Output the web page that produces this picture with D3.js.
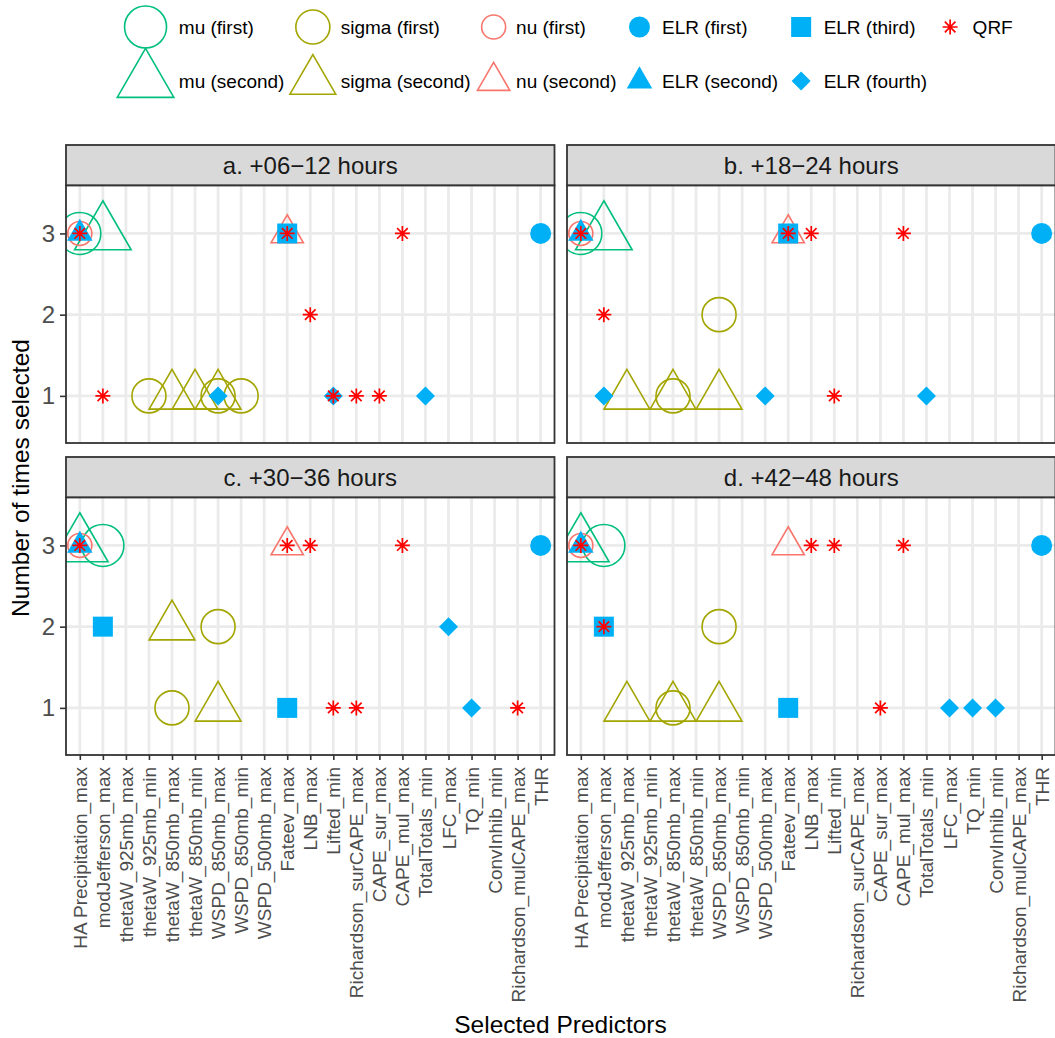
<!DOCTYPE html>
<html>
<head>
<meta charset="utf-8">
<script src="https://cdn.jsdelivr.net/npm/d3@7"></script>
<style>
body { margin: 0; background: #fff; }
svg { font-family: "Liberation Sans", Arial, Helvetica, sans-serif; }
</style>
</head>
<body>
<div id="wrapper"></div>
<script>
const predictors = ["HA Precipitation_max", "modJefferson_max", "thetaW_925mb_max", "thetaW_925mb_min",
  "thetaW_850mb_max", "thetaW_850mb_min", "WSPD_850mb_max", "WSPD_850mb_min", "WSPD_500mb_max",
  "Fateev_max", "LNB_max", "Lifted_min", "Richardson_surCAPE_max", "CAPE_sur_max", "CAPE_mul_max",
  "TotalTotals_min", "LFC_max", "TQ_min", "ConvInhib_min", "Richardson_mulCAPE_max", "THR"];
const panelTitles = ["a. +06\u221212 hours", "b. +18\u221224 hours", "c. +30\u221236 hours", "d. +42\u221248 hours"];
const yTicks = [1, 2, 3];

// rows: [panel index, predictor, number of times selected]
const muFirst = [[0, "HA Precipitation_max", 3], [1, "HA Precipitation_max", 3],
  [2, "modJefferson_max", 3], [3, "modJefferson_max", 3]];
const muSecond = [[0, "modJefferson_max", 3], [1, "modJefferson_max", 3],
  [2, "HA Precipitation_max", 3], [3, "HA Precipitation_max", 3]];
const sigmaFirst = [[0, "thetaW_925mb_min", 1], [0, "WSPD_850mb_max", 1], [0, "WSPD_850mb_min", 1],
  [1, "WSPD_850mb_max", 2], [1, "thetaW_850mb_max", 1],
  [2, "WSPD_850mb_max", 2], [2, "thetaW_850mb_max", 1],
  [3, "WSPD_850mb_max", 2], [3, "thetaW_850mb_max", 1]];
const sigmaSecond = [[0, "thetaW_850mb_max", 1], [0, "thetaW_850mb_min", 1], [0, "WSPD_850mb_max", 1],
  [1, "thetaW_925mb_max", 1], [1, "thetaW_850mb_max", 1], [1, "WSPD_850mb_max", 1],
  [2, "thetaW_850mb_max", 2], [2, "WSPD_850mb_max", 1],
  [3, "thetaW_925mb_max", 1], [3, "thetaW_850mb_max", 1], [3, "WSPD_850mb_max", 1]];
const nuFirst = [[0, "HA Precipitation_max", 3], [1, "HA Precipitation_max", 3],
  [2, "HA Precipitation_max", 3], [3, "HA Precipitation_max", 3]];
const nuSecond = [[0, "Fateev_max", 3], [1, "Fateev_max", 3], [2, "Fateev_max", 3], [3, "Fateev_max", 3]];
const elrFirst = [[0, "THR", 3], [1, "THR", 3], [2, "THR", 3], [3, "THR", 3]];
const elrSecond = [[0, "HA Precipitation_max", 3], [1, "HA Precipitation_max", 3],
  [2, "HA Precipitation_max", 3], [3, "HA Precipitation_max", 3]];
const elrThird = [[0, "Fateev_max", 3], [1, "Fateev_max", 3],
  [2, "modJefferson_max", 2], [2, "Fateev_max", 1],
  [3, "modJefferson_max", 2], [3, "Fateev_max", 1]];
const elrFourth = [[0, "WSPD_850mb_max", 1], [0, "Lifted_min", 1], [0, "TotalTotals_min", 1],
  [1, "modJefferson_max", 1], [1, "WSPD_500mb_max", 1], [1, "TotalTotals_min", 1],
  [2, "LFC_max", 2], [2, "TQ_min", 1],
  [3, "LFC_max", 1], [3, "TQ_min", 1], [3, "ConvInhib_min", 1]];
const qrf = [[0, "HA Precipitation_max", 3], [0, "Fateev_max", 3], [0, "CAPE_mul_max", 3], [0, "LNB_max", 2],
  [0, "modJefferson_max", 1], [0, "Lifted_min", 1], [0, "Richardson_surCAPE_max", 1], [0, "CAPE_sur_max", 1],
  [1, "HA Precipitation_max", 3], [1, "Fateev_max", 3], [1, "LNB_max", 3], [1, "CAPE_mul_max", 3],
  [1, "modJefferson_max", 2], [1, "Lifted_min", 1],
  [2, "HA Precipitation_max", 3], [2, "Fateev_max", 3], [2, "LNB_max", 3], [2, "CAPE_mul_max", 3],
  [2, "Lifted_min", 1], [2, "Richardson_surCAPE_max", 1], [2, "Richardson_mulCAPE_max", 1],
  [3, "HA Precipitation_max", 3], [3, "LNB_max", 3], [3, "Lifted_min", 3], [3, "CAPE_mul_max", 3],
  [3, "modJefferson_max", 2], [3, "CAPE_sur_max", 1]];

const series = [
  {name: "mu (first)", data: muFirst, color: "#00BF7D", shape: "circle", size: 21},
  {name: "mu (second)", data: muSecond, color: "#00BF7D", shape: "triangle", size: 21},
  {name: "sigma (first)", data: sigmaFirst, color: "#A3A500", shape: "circle", size: 17},
  {name: "sigma (second)", data: sigmaSecond, color: "#A3A500", shape: "triangle", size: 17},
  {name: "nu (first)", data: nuFirst, color: "#F8766D", shape: "circle", size: 12},
  {name: "nu (second)", data: nuSecond, color: "#F8766D", shape: "triangle", size: 12},
  {name: "ELR (first)", data: elrFirst, color: "#00B0F6", shape: "circle", size: 10.5, filled: true},
  {name: "ELR (second)", data: elrSecond, color: "#00B0F6", shape: "triangle", size: 9.5, filled: true},
  {name: "ELR (third)", data: elrThird, color: "#00B0F6", shape: "square", size: 10, filled: true},
  {name: "ELR (fourth)", data: elrFourth, color: "#00B0F6", shape: "diamond", size: 9.5, filled: true},
  {name: "QRF", data: qrf, color: "#FF0000", shape: "asterisk", size: 7.5}
];

function symbolPath(shape, r) {
  const p = d3.path();
  if (shape === "circle") {
    p.arc(0, 0, r, 0, 2 * Math.PI);
  } else if (shape === "triangle") {
    p.moveTo(0, -1.5551 * r);
    p.lineTo(1.3468 * r, 0.7776 * r);
    p.lineTo(-1.3468 * r, 0.7776 * r);
    p.closePath();
  } else if (shape === "square") {
    p.rect(-r, -r, 2 * r, 2 * r);
  } else if (shape === "diamond") {
    p.moveTo(0, -r); p.lineTo(r, 0); p.lineTo(0, r); p.lineTo(-r, 0); p.closePath();
  } else {
    const k = r / Math.SQRT2;
    p.moveTo(-r, 0); p.lineTo(r, 0);
    p.moveTo(0, -r); p.lineTo(0, r);
    p.moveTo(-k, -k); p.lineTo(k, k);
    p.moveTo(-k, k); p.lineTo(k, -k);
  }
  return p.toString();
}
function symbolWidth(s) {
  return s.shape === "triangle" ? 2.694 * s.size : 2 * s.size;
}
function styleSymbol(sel, s) {
  if (s.filled) sel.attr("fill", s.color).attr("stroke", "none");
  else sel.attr("fill", "none").attr("stroke", s.color).attr("stroke-width", s.shape === "asterisk" ? 1.7 : 1.6);
}

const width = 1055, height = 1038;
const svg = d3.select("#wrapper").append("svg").attr("width", width).attr("height", height);

const layout = {left: [66, 567], top: [145, 457], panelW: 488.5, stripH: 40.5, plotH: 257.5};

const xScale = d3.scalePoint().domain(predictors).range([0, layout.panelW]).padding(0.6);
const yScale = d3.scaleLinear().domain([0.42, 3.59]).range([layout.plotH, 0]);

panelTitles.forEach((title, p) => {
  const col = p % 2, row = Math.floor(p / 2);
  const px = layout.left[col], py = layout.top[row];

  const strip = svg.append("g").attr("transform", `translate(${px},${py})`);
  strip.append("rect").attr("width", layout.panelW).attr("height", layout.stripH)
    .attr("fill", "#D9D9D9").attr("stroke", "#333333").attr("stroke-width", 1.8);
  strip.append("text").attr("x", layout.panelW / 2).attr("y", layout.stripH / 2)
    .attr("text-anchor", "middle").attr("dominant-baseline", "central")
    .attr("font-size", 24).attr("fill", "#1A1A1A").text(title);

  const bounds = svg.append("g").attr("transform", `translate(${px},${py + layout.stripH})`);
  bounds.append("clipPath").attr("id", "clip" + p).append("rect")
    .attr("width", layout.panelW).attr("height", layout.plotH);
  const inner = bounds.append("g").attr("clip-path", `url(#clip${p})`);
  inner.append("rect").attr("width", layout.panelW).attr("height", layout.plotH).attr("fill", "#fff");

  inner.selectAll(".vgrid").data(predictors).join("line")
    .attr("x1", d => xScale(d)).attr("x2", d => xScale(d))
    .attr("y1", 0).attr("y2", layout.plotH)
    .attr("stroke", "#EBEBEB").attr("stroke-width", 2.8);
  inner.selectAll(".hgrid").data(yTicks).join("line")
    .attr("x1", 0).attr("x2", layout.panelW)
    .attr("y1", d => yScale(d)).attr("y2", d => yScale(d))
    .attr("stroke", "#EBEBEB").attr("stroke-width", 2.8);

  series.forEach(s => {
    inner.append("g").selectAll("path").data(s.data.filter(d => d[0] === p)).join("path")
      .attr("transform", d => `translate(${xScale(d[1])},${yScale(d[2])})`)
      .attr("d", symbolPath(s.shape, s.size))
      .call(styleSymbol, s);
  });

  bounds.append("rect").attr("width", layout.panelW).attr("height", layout.plotH)
    .attr("fill", "none").attr("stroke", "#333333").attr("stroke-width", 1.8);

  if (col === 0) {
    const yAxis = bounds.append("g").call(d3.axisLeft(yScale).tickValues(yTicks).tickSize(6).tickPadding(5).tickFormat(d3.format("d")));
    yAxis.select(".domain").remove();
    yAxis.selectAll(".tick line").attr("stroke", "#333333").attr("stroke-width", 1.6);
    yAxis.selectAll(".tick text").attr("font-size", 24).attr("fill", "#4D4D4D")
      .attr("font-family", "Liberation Sans, Arial, sans-serif");
  }
  if (row === 1) {
    const xAxis = bounds.append("g").attr("transform", `translate(0,${layout.plotH})`)
      .call(d3.axisBottom(xScale).tickSize(5));
    xAxis.select(".domain").remove();
    xAxis.selectAll(".tick line").attr("stroke", "#333333").attr("stroke-width", 1.6);
    xAxis.selectAll(".tick text")
      .attr("font-size", 19).attr("fill", "#4D4D4D").attr("font-family", "Liberation Sans, Arial, sans-serif")
      .attr("transform", "rotate(-90)")
      .attr("x", -12).attr("y", 0).attr("dy", null)
      .attr("text-anchor", "end").attr("dominant-baseline", "central");
  }
});

// axis titles
svg.append("text").attr("x", (layout.left[0] + width) / 2).attr("y", 1033)
  .attr("text-anchor", "middle").attr("font-size", 24.5).attr("fill", "#000").text("Selected Predictors");
svg.append("text")
  .attr("transform", `translate(20,${(layout.top[0] + layout.top[1] + layout.stripH + layout.plotH) / 2 + 28}) rotate(-90)`)
  .attr("text-anchor", "middle").attr("dominant-baseline", "central")
  .attr("font-size", 24.5).attr("fill", "#000").text("Number of times selected");

// legend: two rows, columns filled top to bottom
const legend = svg.append("g");
const rowY = [27, 81];
const keyMin = 35, textGap = 5, colGap = 5.5;
let cursor = 0;
d3.range(Math.ceil(series.length / 2)).forEach(c => {
  const members = series.filter((s, i) => Math.floor(i / 2) === c);
  const keyW = Math.max(keyMin, ...members.map(symbolWidth));
  let maxText = 0;
  members.forEach((s, j) => {
    legend.append("path")
      .attr("transform", `translate(${cursor + keyW / 2},${rowY[j]})`)
      .attr("d", symbolPath(s.shape, s.size))
      .call(styleSymbol, s);
    const t = legend.append("text").attr("x", cursor + keyW + textGap).attr("y", rowY[j])
      .attr("dominant-baseline", "central").attr("font-size", 19).attr("fill", "#000").text(s.name);
    maxText = Math.max(maxText, t.node().getComputedTextLength());
  });
  cursor += keyW + textGap + maxText + colGap;
});
const legendW = cursor - colGap;
legend.attr("transform", `translate(${565 - legendW / 2},0)`);
</script>
</body>
</html>
